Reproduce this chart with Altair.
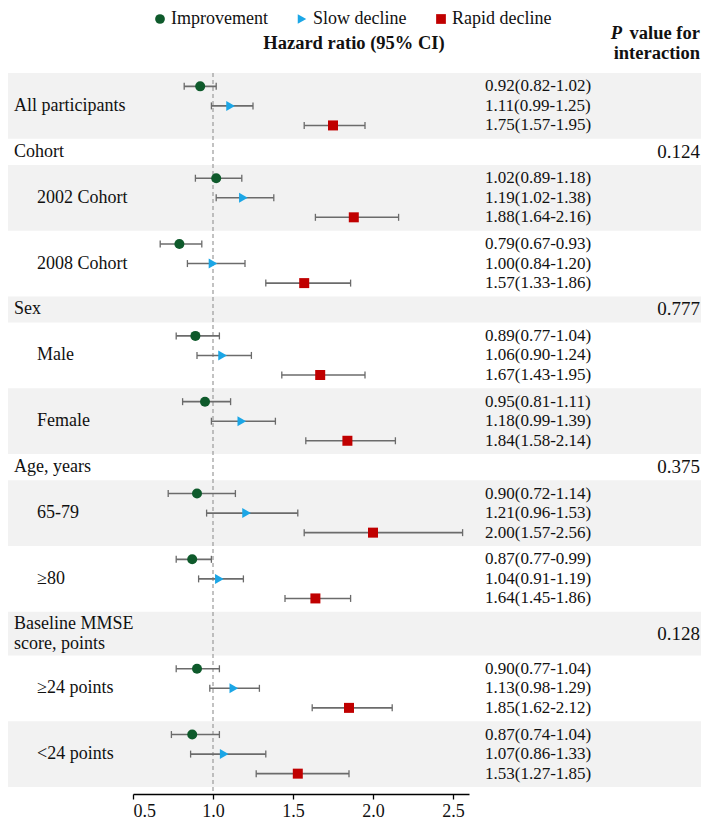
import altair as alt
import pandas as pd

# ---------------- data ----------------
row_labels = ["All participants", "Cohort", "2002 Cohort", "2008 Cohort", "Sex", "Male", "Female",
              "Age, years", "65-79", "≥80", "Baseline MMSE\nscore, points", "≥24 points", "<24 points"]
row_kinds = ["data", "group", "data", "data", "group", "data", "data",
             "group", "data", "data", "group2", "data", "data"]
row_indent = [False, False, True, True, False, True, True, False, True, True, False, True, True]
p_interaction = ["", "0.124", "", "", "0.777", "", "", "0.375", "", "", "0.128", "", ""]

series = ["Improvement", "Slow decline", "Rapid decline"]
series_colors = ["#0e5a2b", "#1ba6e6", "#c00000"]
series_shapes = ["circle", "triangle-right", "square"]

improvement_hr = [0.92, 1.02, 0.79, 0.89, 0.95, 0.90, 0.87, 0.90, 0.87]
improvement_lo = [0.82, 0.89, 0.67, 0.77, 0.81, 0.72, 0.77, 0.77, 0.74]
improvement_hi = [1.02, 1.18, 0.93, 1.04, 1.11, 1.14, 0.99, 1.04, 1.04]
slow_hr = [1.11, 1.19, 1.00, 1.06, 1.18, 1.21, 1.04, 1.13, 1.07]
slow_lo = [0.99, 1.02, 0.84, 0.90, 0.99, 0.96, 0.91, 0.98, 0.86]
slow_hi = [1.25, 1.38, 1.20, 1.24, 1.39, 1.53, 1.19, 1.29, 1.33]
rapid_hr = [1.75, 1.88, 1.57, 1.67, 1.84, 2.00, 1.64, 1.85, 1.53]
rapid_lo = [1.57, 1.64, 1.33, 1.43, 1.58, 1.57, 1.45, 1.62, 1.27]
rapid_hi = [1.95, 2.16, 1.86, 1.95, 2.14, 2.56, 1.86, 2.12, 1.85]

x_ticks = [0.5, 1.0, 1.5, 2.0, 2.5]
x_domain = [0.5, 2.6]
reference_hr = [1.0]

# ---------------- layout constants ----------------
SERIF = "Liberation Serif"
TXT = "#111111"
BLOCK_H, GROUP_H, GROUP2_H, SUB, LINE_H = 66.3, 26.3, 44.0, 19.7, 20.0
PLOT_W, PLOT_H = 336, 714
LEFT, RIGHT = -125, 568

heights = {"data": BLOCK_H, "group": GROUP_H, "group2": GROUP2_H}
tops, cur = [], 0.0
for k in row_kinds:
    tops.append(cur)
    cur += heights[k]
TOTAL = cur

rows_df = pd.DataFrame({
    "label": row_labels,
    "top": tops,
    "bottom": [t + heights[k] for t, k in zip(tops, row_kinds)],
    "indent": row_indent,
    "p": p_interaction,
})
rows_df["mid"] = (rows_df["top"] + rows_df["bottom"]) / 2
rows_df["shaded"] = [i % 2 == 0 for i in range(len(rows_df))]

# one text row per printed line of the row labels
line_recs = []
for _, r in rows_df.iterrows():
    parts = r["label"].split("\n")
    n = len(parts)
    for i, part in enumerate(parts):
        line_recs.append({"line": part, "indent": r["indent"],
                          "y": r["mid"] + (i - (n - 1) / 2) * LINE_H})
lines_df = pd.DataFrame(line_recs)

hr_sets = [(improvement_hr, improvement_lo, improvement_hi),
           (slow_hr, slow_lo, slow_hi),
           (rapid_hr, rapid_lo, rapid_hi)]
data_rows = [i for i, k in enumerate(row_kinds) if k == "data"]
recs = []
for j, ri in enumerate(data_rows):
    for s, (hr, lo, hi) in enumerate(hr_sets):
        recs.append({
            "series": series[s],
            "y": tops[ri] + BLOCK_H / 2 + (s - 1) * SUB,
            "hr": hr[j], "lo": lo[j], "hi": hi[j],
            "txt": f"{hr[j]:.2f}({lo[j]:.2f}-{hi[j]:.2f})",
        })
pts = pd.DataFrame(recs)

# ---------------- scales / encodings ----------------
y_scale = alt.Scale(domain=[0, TOTAL], reverse=True, nice=False, zero=False)
x_scale = alt.Scale(domain=x_domain, nice=False, zero=False)
x_axis = alt.Axis(values=x_ticks, format=".1f", title=None, grid=False, offset=7,
                  domainColor="#000000", domainWidth=1.5, tickColor="#000000", tickWidth=1.3,
                  tickSize=5, labelFont=SERIF, labelFontSize=18, labelColor=TXT, labelPadding=3)

def X(f):
    return alt.X(f"{f}:Q", scale=x_scale, axis=x_axis)

def Y(f):
    return alt.Y(f"{f}:Q", scale=y_scale, axis=None)

legend = alt.Legend(orient="none", legendX=18, legendY=-63, direction="horizontal", title=None,
                    labelFont=SERIF, labelFontSize=18, labelColor=TXT, symbolSize=95,
                    symbolStrokeWidth=0, labelOffset=2, columnPadding=25, padding=0)

bands = alt.Chart(rows_df[rows_df["shaded"]]).mark_rect(color="#f2f2f2").encode(
    x=alt.value(LEFT), x2=alt.value(RIGHT), y=Y("top"), y2="bottom:Q")

refline = alt.Chart(pd.DataFrame({"ref": reference_hr})).mark_rule(
    color="#9a9a9a", strokeDash=[4, 3], strokeWidth=1.2).encode(
    x=X("ref"), y=alt.value(0), y2=alt.value(PLOT_H + 7))

err = alt.Chart(pts).mark_rule(color="#6b6b6b", strokeWidth=1.6).encode(
    x=X("lo"), x2="hi:Q", y=Y("y"))
cap_lo = alt.Chart(pts).mark_rule(color="#6b6b6b", strokeWidth=1.3, yOffset=-3.5, y2Offset=3.5).encode(
    x=X("lo"), y=Y("y"), y2="y:Q")
cap_hi = alt.Chart(pts).mark_rule(color="#6b6b6b", strokeWidth=1.3, yOffset=-3.5, y2Offset=3.5).encode(
    x=X("hi"), y=Y("y"), y2="y:Q")

points = alt.Chart(pts).mark_point(filled=True, size=100, opacity=1).encode(
    x=X("hr"), y=Y("y"),
    color=alt.Color("series:N", scale=alt.Scale(domain=series, range=series_colors), legend=legend),
    shape=alt.Shape("series:N", scale=alt.Scale(domain=series, range=series_shapes), legend=legend),
)

hr_text = alt.Chart(pts).mark_text(align="left", baseline="middle", font=SERIF, fontSize=17,
                                   color=TXT).encode(x=alt.value(352), y=Y("y"), text="txt:N")

lab_main = alt.Chart(lines_df[~lines_df["indent"]]).mark_text(
    align="left", baseline="middle", font=SERIF, fontSize=18, color=TXT).encode(
    x=alt.value(-119), y=Y("y"), text="line:N")
lab_sub = alt.Chart(lines_df[lines_df["indent"]]).mark_text(
    align="left", baseline="middle", font=SERIF, fontSize=18, color=TXT).encode(
    x=alt.value(-96), y=Y("y"), text="line:N")

pvals = alt.Chart(rows_df[rows_df["p"] != ""]).mark_text(
    align="right", baseline="middle", font=SERIF, fontSize=19, color=TXT).encode(
    x=alt.value(567), y=Y("mid"), text="p:N")

hdr_hr = alt.Chart(pd.DataFrame({"t": ["Hazard ratio (95% CI)"]})).mark_text(
    align="center", baseline="middle", font=SERIF, fontSize=18.5, fontWeight="bold", color=TXT).encode(
    x=alt.value(221), y=alt.value(-30), text="t:N")
hdr_p = alt.Chart(pd.DataFrame({"t": ["P"]})).mark_text(
    align="right", baseline="middle", font=SERIF, fontSize=18.5, fontWeight="bold", fontStyle="italic",
    color=TXT).encode(x=alt.value(489), y=alt.value(-40), text="t:N")
hdr_p2 = alt.Chart(pd.DataFrame({"t": ["value for"]})).mark_text(
    align="right", baseline="middle", font=SERIF, fontSize=18.5, fontWeight="bold", color=TXT).encode(
    x=alt.value(567), y=alt.value(-40), text="t:N")
hdr_p3 = alt.Chart(pd.DataFrame({"t": ["interaction"]})).mark_text(
    align="right", baseline="middle", font=SERIF, fontSize=18.5, fontWeight="bold", color=TXT).encode(
    x=alt.value(567), y=alt.value(-20), text="t:N")

chart = alt.layer(
    bands, refline, err, cap_lo, cap_hi, points, hr_text, lab_main, lab_sub, pvals,
    hdr_hr, hdr_p, hdr_p2, hdr_p3,
).properties(
    width=PLOT_W, height=PLOT_H,
    padding={"top": 2, "bottom": 0, "left": 0, "right": 0},
).configure_view(stroke=None)

chart.save("out.html", embed_options={"renderer": "svg", "actions": False})
